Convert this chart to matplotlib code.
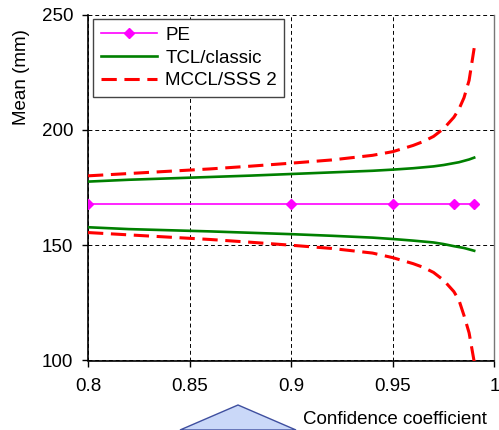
import matplotlib
matplotlib.use("Agg")
import matplotlib.pyplot as plt
from matplotlib.patches import Polygon

plt.rcParams['font.family'] = ['Liberation Sans', 'DejaVu Sans']
plt.rcParams['font.size'] = 13.5

# confidence coefficient values
conf = [0.8, 0.82, 0.84, 0.86, 0.88, 0.9, 0.92, 0.94, 0.95, 0.96, 0.965, 0.97, 0.975, 0.98, 0.9825, 0.985, 0.9875, 0.99]

# point estimate
pe_x = [0.8, 0.9, 0.95, 0.98, 0.99]
pe_y = [168, 168, 168, 168, 168]

# classic confidence limits
tcl_up = [177.6, 178.4, 179.0, 179.6, 180.2, 180.9, 181.6, 182.3, 182.8, 183.4, 183.8, 184.2, 184.8, 185.6, 186.0, 186.6, 187.2, 188.0]
tcl_lo = [157.8, 157.0, 156.5, 156.0, 155.4, 154.8, 154.1, 153.3, 152.7, 152.0, 151.6, 151.2, 150.5, 149.6, 149.2, 148.8, 148.2, 147.6]

# MCCL / SSS 2 limits
mccl_up = [180.1, 181.1, 182.1, 183.1, 184.3, 185.6, 187.0, 189.0, 190.6, 193.3, 195.0, 197.2, 200.6, 205.5, 209.0, 214.0, 221.5, 235.5]
mccl_lo = [155.5, 154.5, 153.5, 152.5, 151.3, 150.0, 148.6, 146.6, 144.6, 142.0, 140.4, 138.2, 134.8, 129.9, 126.2, 119.5, 112.0, 99.5]

fig = plt.figure(figsize=(4.99, 4.30), dpi=100)
ax = fig.add_axes([88/499, 1-360.5/430, (494.5-88)/499, (360.5-14.7)/430])

ax.plot(pe_x, pe_y, color='#ff00ff', lw=1.2, marker='D', ms=5.5, label='PE', zorder=4)
ax.plot(conf, tcl_up, color='#008000', lw=1.9, label='TCL/classic', zorder=3)
ax.plot(conf, tcl_lo, color='#008000', lw=1.9, zorder=3)
ax.plot(conf, mccl_up, color='#ff0000', lw=2.2, dashes=(5, 2.5), label='MCCL/SSS 2', zorder=3)
ax.plot(conf, mccl_lo, color='#ff0000', lw=2.2, dashes=(5, 2.5), zorder=3)

ax.set_xlim(0.8, 1.0)
ax.set_ylim(100, 250)
ax.set_xticks([0.8, 0.85, 0.9, 0.95, 1.0])
ax.set_xticklabels(['0.8', '0.85', '0.9', '0.95', '1'])
ax.set_yticks([100, 150, 200, 250])
ax.grid(True, color='black', lw=0.7, dashes=(4, 3))
ax.set_axisbelow(True)
ax.tick_params(direction='out', length=4.5, width=1, pad=6, colors='black')
ax.tick_params(axis='x', pad=8)

ax.spines['top'].set_visible(False)
ax.spines['right'].set_color('#777777')
ax.spines['right'].set_linewidth(1)
for s in ['left', 'bottom']:
    ax.spines[s].set_linewidth(1.2)

leg = ax.legend(loc='upper left', bbox_to_anchor=(5/406.5, 1-4.5/346), frameon=True,
                fancybox=False, framealpha=1, edgecolor='#444444', borderpad=0.4,
                handlelength=3.0, handletextpad=0.45, labelspacing=0.3, borderaxespad=0)
leg.get_frame().set_linewidth(1)

fig.text(22/499, 1-77/430, 'Mean (mm)', rotation=90, ha='center', va='center')
fig.text(487/499, 1-420/430, 'Confidence coefficient', ha='right', va='center')

tri = Polygon([(180/499, 0), (238/499, 1-405/430), (296/499, 0)], closed=True,
              transform=fig.transFigure, facecolor='#cad8f8', edgecolor='#3f4f9f', lw=1)
fig.patches.append(tri)

fig.savefig('out.png', dpi=100)
